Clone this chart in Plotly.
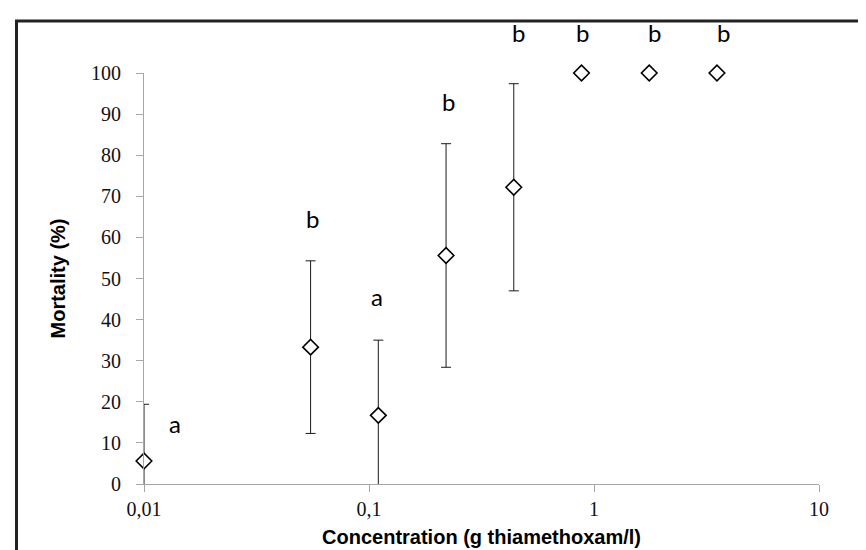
import math
import plotly.graph_objects as go

# Data
concentration = [0.01, 0.055, 0.11, 0.22, 0.44, 0.88, 1.76, 3.52]
mortality = [5.6, 33.3, 16.7, 55.6, 72.2, 100, 100, 100]
error = [13.8, 21.0, 18.3, 27.2, 25.2, 0, 0, 0]
letters = ["a", "b", "a", "b", "b", "b", "b", "b"]
letter_y = [14.7, 64.5, 45.6, 93, 109.8, 109.8, 109.8, 109.8]
letter_xshift = [31, 2, -1, 2, 5, 1, 5, 7]

x_tickvals = [0.01, 0.1, 1, 10]
x_ticktext = ["0,01", "0,1", "1", "10"]
y_tickvals = [0, 10, 20, 30, 40, 50, 60, 70, 80, 90, 100]
y_range = [0, 100]

fig = go.Figure()

# error bars (clipped to the plotting area)
fig.add_trace(go.Scatter(
    x=concentration, y=mortality, mode="markers",
    marker=dict(size=1, color="rgba(0,0,0,0)"),
    error_y=dict(type="data", array=error, visible=True,
                 color="#1a1a1a", thickness=1, width=5),
    cliponaxis=True, showlegend=False, hoverinfo="skip",
))

# open diamonds
fig.add_trace(go.Scatter(
    x=concentration, y=mortality, mode="markers",
    marker=dict(symbol="diamond", size=12, color="white",
                line=dict(color="black", width=1.6)),
    cliponaxis=False, showlegend=False,
))

# significance letters (placed in y-domain fractions so those above 100 stay visible)
for lx, ly, lt, sh in zip(concentration, letter_y, letters, letter_xshift):
    fig.add_annotation(x=math.log10(lx), y=(ly - y_range[0]) / (y_range[1] - y_range[0]),
                       xref="x", yref="paper", xanchor="center", yanchor="middle",
                       text=lt, showarrow=False, xshift=sh,
                       font=dict(family="Lato, Open Sans, sans-serif", size=24, color="black"))

axis_col = "#a6a6a6"
fig.update_xaxes(
    type="log", range=[-2, 1],
    tickvals=x_tickvals, ticktext=x_ticktext,
    showgrid=False, zeroline=False,
    showline=True, linecolor=axis_col, linewidth=1,
    ticks="outside", ticklen=7, tickcolor=axis_col, tickwidth=1,
    tickfont=dict(family="Liberation Serif, Times New Roman, serif", size=20, color="#111"),
    title=dict(text="<b>Concentration (g thiamethoxam/l)</b>",
               font=dict(family="Liberation Sans, Arial, sans-serif", size=20, color="black"),
               standoff=10),
)
fig.update_yaxes(
    range=y_range, tickvals=y_tickvals,
    showgrid=False, zeroline=False,
    showline=True, linecolor=axis_col, linewidth=1,
    ticks="outside", ticklen=7, tickcolor=axis_col, tickwidth=1,
    ticklabelstandoff=11,
    tickfont=dict(family="Liberation Serif, Times New Roman, serif", size=20, color="#111"),
    title=dict(text="<b>Mortality (%)</b>",
               font=dict(family="Liberation Sans, Arial, sans-serif", size=20, color="black"),
               standoff=20),
)

# outer frame (cropped at right and bottom as in the reference)
fig.add_shape(type="rect", xref="paper", yref="paper",
              x0=-0.1889, x1=1.3, y0=-0.4, y1=1.1265,
              line=dict(color="#222222", width=3), layer="above")

fig.update_layout(
    width=866, height=550,
    margin=dict(l=136, r=55, t=65, b=74, autoexpand=False),
    plot_bgcolor="white", paper_bgcolor="white",
)

fig.write_html("out.html")
